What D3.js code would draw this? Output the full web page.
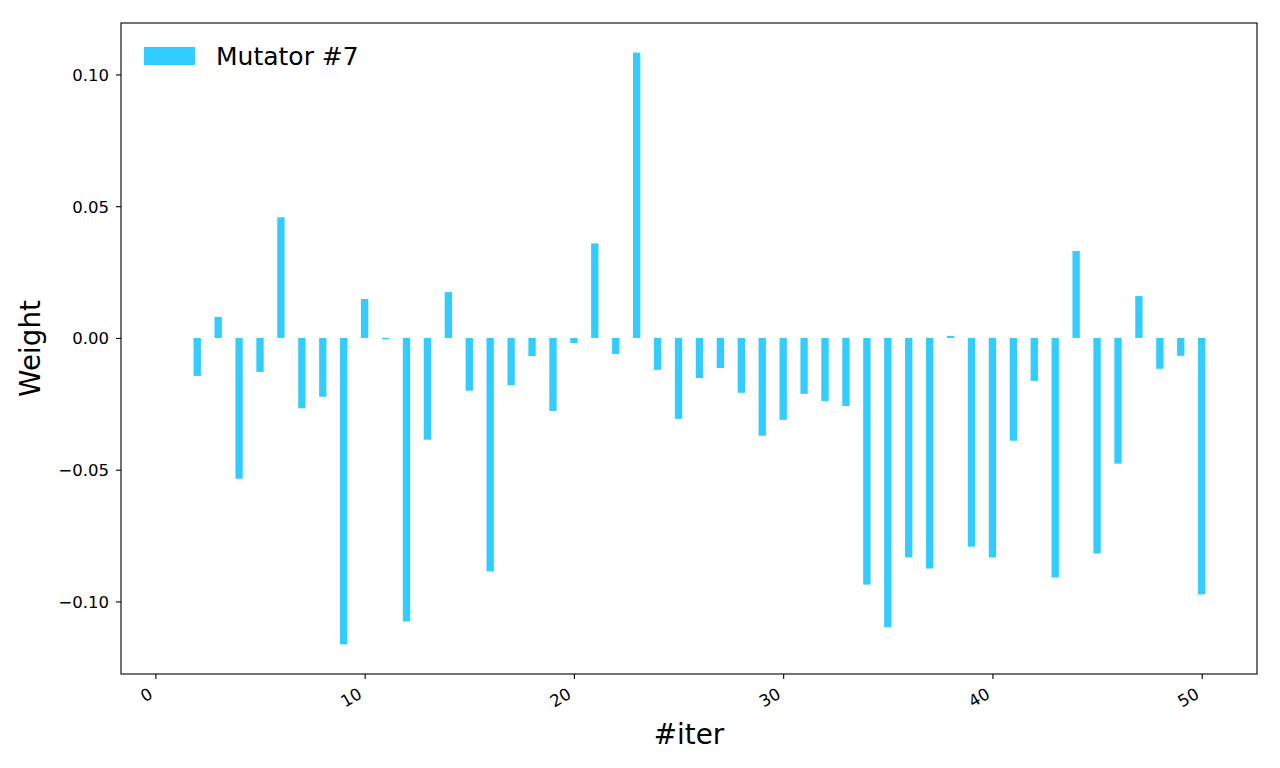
<!DOCTYPE html>
<html>
<head>
<meta charset="utf-8">
<script src="https://cdn.jsdelivr.net/npm/d3@7"></script>
<style>
  body { margin: 0; background: #fff; }
  svg { display: block; font-family: "DejaVu Sans", sans-serif; }
</style>
</head>
<body>
<div id="chart"></div>
<script>
// chart values
var iters = [1, 2, 3, 4, 5, 6, 7, 8, 9, 10,
  11, 12, 13, 14, 15, 16, 17, 18, 19, 20,
  21, 22, 23, 24, 25, 26, 27, 28, 29, 30,
  31, 32, 33, 34, 35, 36, 37, 38, 39, 40,
  41, 42, 43, 44, 45, 46, 47, 48, 49, 50];
var weights = [0.0000, -0.0144, 0.0080, -0.0534, -0.0129, 0.0458, -0.0267, -0.0223, -0.1163, 0.0148,
  -0.0005, -0.1076, -0.0386, 0.0174, -0.0200, -0.0886, -0.0179, -0.0069, -0.0277, -0.0019,
  0.0359, -0.0061, 0.1083, -0.0121, -0.0307, -0.0152, -0.0114, -0.0208, -0.0371, -0.0311,
  -0.0212, -0.0239, -0.0258, -0.0936, -0.1098, -0.0833, -0.0875, 0.0008, -0.0792, -0.0833,
  -0.0390, -0.0163, -0.0909, 0.0330, -0.0818, -0.0477, 0.0159, -0.0117, -0.0068, -0.0973];
var xTicks = [0, 10, 20, 30, 40, 50];
var yTicks = [-0.10, -0.05, 0.00, 0.05, 0.10];
var seriesName = "Mutator #7";

var svgWidth = 1280;
var svgHeight = 768;
var margin = { top: 23, right: 23, bottom: 94, left: 121 };
var width = svgWidth - margin.left - margin.right;
var height = svgHeight - margin.top - margin.bottom;
var barWidth = 0.35;
var barColor = "#33ccff";

var svg = d3.select("#chart")
  .append("svg")
  .attr("width", svgWidth)
  .attr("height", svgHeight);

var chartGroup = svg.append("g")
  .attr("transform", `translate(${margin.left}, ${margin.top})`);

// matplotlib-style 5% margins around the data
var xLo = d3.min(iters) - barWidth / 2;
var xHi = d3.max(iters) + barWidth / 2;
var xPad = (xHi - xLo) * 0.05;
var xScale = d3.scaleLinear()
  .domain([xLo - xPad, xHi + xPad])
  .range([0, width]);

var yLo = Math.min(0, d3.min(weights));
var yHi = Math.max(0, d3.max(weights));
var yPad = (yHi - yLo) * 0.05;
var yScale = d3.scaleLinear()
  .domain([yLo - yPad, yHi + yPad])
  .range([height, 0]);

// bars
chartGroup.selectAll(".bar")
  .data(weights)
  .enter()
  .append("rect")
  .attr("class", "bar")
  .attr("x", (d, i) => xScale(iters[i] - barWidth / 2))
  .attr("width", xScale(barWidth) - xScale(0))
  .attr("y", d => yScale(Math.max(0, d)))
  .attr("height", d => Math.abs(yScale(d) - yScale(0)))
  .attr("fill", barColor);

// axes
var bottomAxis = d3.axisBottom(xScale)
  .tickValues(xTicks)
  .tickSize(5)
  .tickSizeOuter(0)
  .tickFormat(d3.format("d"));
var leftAxis = d3.axisLeft(yScale)
  .tickValues(yTicks)
  .tickSize(5)
  .tickSizeOuter(0)
  .tickFormat(d3.format(".2f"));

var xAxisG = chartGroup.append("g")
  .attr("transform", `translate(0, ${height})`)
  .call(bottomAxis);
xAxisG.select(".domain").remove();
xAxisG.selectAll(".tick line").attr("stroke", "#000").attr("stroke-width", 1.1);
xAxisG.selectAll(".tick text")
  .attr("fill", "#000")
  .style("font-size", "16.5px")
  .style("font-family", "DejaVu Sans")
  .attr("text-anchor", "end")
  .attr("y", 0)
  .attr("dy", "-0.236em")
  .attr("transform", "translate(0, 26.5) rotate(-30)");

var yAxisG = chartGroup.append("g")
  .call(leftAxis);
yAxisG.select(".domain").remove();
yAxisG.selectAll(".tick line").attr("stroke", "#000").attr("stroke-width", 1.1);
yAxisG.selectAll(".tick text")
  .attr("fill", "#000")
  .style("font-size", "16.5px")
  .style("font-family", "DejaVu Sans")
  .attr("x", -12)
  .attr("dy", "0.36em");

// frame
chartGroup.append("rect")
  .attr("x", 0)
  .attr("y", 0)
  .attr("width", width)
  .attr("height", height)
  .attr("fill", "none")
  .attr("stroke", "#000")
  .attr("stroke-width", 1.1);

// axis labels
chartGroup.append("text")
  .attr("transform", `translate(${-margin.left + 40}, ${height / 2}) rotate(-90)`)
  .attr("text-anchor", "middle")
  .style("font-size", "27.8px")
  .text("Weight");

chartGroup.append("text")
  .attr("x", width / 2)
  .attr("y", height + 70)
  .attr("text-anchor", "middle")
  .style("font-size", "27.8px")
  .text("#iter");

// legend
var legend = chartGroup.append("g")
  .attr("transform", "translate(23, 24)");
legend.append("rect")
  .attr("x", 0)
  .attr("y", 0)
  .attr("width", 51)
  .attr("height", 18)
  .attr("fill", barColor);
legend.append("text")
  .attr("x", 72)
  .attr("y", 9)
  .attr("dy", "0.36em")
  .style("font-size", "25px")
  .text(seriesName);
</script>
</body>
</html>
